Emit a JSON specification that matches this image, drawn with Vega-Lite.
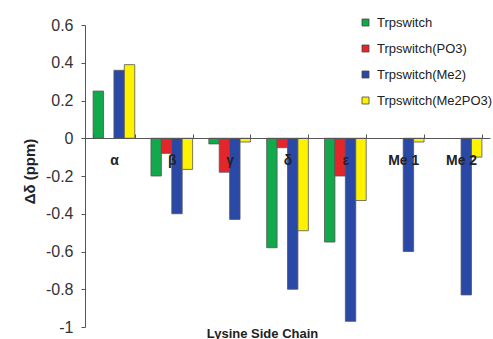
{
  "$schema": "https://vega.github.io/schema/vega-lite/v6.json",
  "width": 405,
  "height": 302,
  "autosize": {"type": "none"},
  "padding": {"left": 85, "top": 25, "right": 3, "bottom": 12},
  "background": "white",
  "config": {"view": {"stroke": null}, "font": "Liberation Sans"},
  "data": {"values": [
    {"chain": "α", "series": "Trpswitch", "value": 0.25},
    {"chain": "α", "series": "Trpswitch(Me2)", "value": 0.36},
    {"chain": "α", "series": "Trpswitch(Me2PO3)", "value": 0.39},
    {"chain": "β", "series": "Trpswitch", "value": -0.2},
    {"chain": "β", "series": "Trpswitch(PO3)", "value": -0.08},
    {"chain": "β", "series": "Trpswitch(Me2)", "value": -0.4},
    {"chain": "β", "series": "Trpswitch(Me2PO3)", "value": -0.165},
    {"chain": "γ", "series": "Trpswitch", "value": -0.03},
    {"chain": "γ", "series": "Trpswitch(PO3)", "value": -0.18},
    {"chain": "γ", "series": "Trpswitch(Me2)", "value": -0.43},
    {"chain": "γ", "series": "Trpswitch(Me2PO3)", "value": -0.02},
    {"chain": "δ", "series": "Trpswitch", "value": -0.58},
    {"chain": "δ", "series": "Trpswitch(PO3)", "value": -0.05},
    {"chain": "δ", "series": "Trpswitch(Me2)", "value": -0.8},
    {"chain": "δ", "series": "Trpswitch(Me2PO3)", "value": -0.49},
    {"chain": "ε", "series": "Trpswitch", "value": -0.55},
    {"chain": "ε", "series": "Trpswitch(PO3)", "value": -0.2},
    {"chain": "ε", "series": "Trpswitch(Me2)", "value": -0.97},
    {"chain": "ε", "series": "Trpswitch(Me2PO3)", "value": -0.33},
    {"chain": "Me 1", "series": "Trpswitch(Me2)", "value": -0.6},
    {"chain": "Me 1", "series": "Trpswitch(Me2PO3)", "value": -0.02},
    {"chain": "Me 2", "series": "Trpswitch(Me2)", "value": -0.83},
    {"chain": "Me 2", "series": "Trpswitch(Me2PO3)", "value": -0.1}
  ]},
  "mark": {"type": "bar", "stroke": "#555", "strokeWidth": 0.8},
  "encoding": {
    "x": {
      "field": "chain", "type": "nominal",
      "sort": ["α", "β", "γ", "δ", "ε", "Me 1", "Me 2"],
      "scale": {"paddingInner": 0.28, "paddingOuter": 0.14},
      "axis": {
        "orient": "bottom", "offset": -189, "labelAngle": 0, "zindex": 1,
        "tickBand": "extent", "tickSize": -4, "tickColor": "#555", "domainColor": "#555",
        "labelFont": "Liberation Sans", "labelFontWeight": "bold", "labelFontSize": 14, "labelColor": "#222",
        "labelPadding": 19,
        "title": "Lysine Side Chain", "titleFont": "Liberation Sans", "titleFontSize": 13, "titleFontWeight": "bold", "titleColor": "#222",
        "titleX": 177, "titleY": 189, "titleAnchor": "middle", "titleBaseline": "top"
      }
    },
    "xOffset": {"field": "series", "type": "nominal", "sort": ["Trpswitch", "Trpswitch(PO3)", "Trpswitch(Me2)", "Trpswitch(Me2PO3)"], "scale": {"paddingInner": 0, "paddingOuter": 0}},
    "y": {
      "field": "value", "type": "quantitative",
      "scale": {"domain": [-1, 0.6], "nice": false, "zero": false},
      "axis": {
        "values": [-1, -0.8, -0.6, -0.4, -0.2, 0, 0.2, 0.4, 0.6],
        "labelExpr": "replace(format(datum.value, '~g'), '−', '-')",
        "grid": false, "tickSize": 4, "tickColor": "#555", "domainColor": "#555",
        "labelFont": "Liberation Sans", "labelFontSize": 16, "labelColor": "#333", "labelPadding": 8,
        "title": "Δδ (ppm)", "titleFont": "Liberation Sans", "titleFontSize": 15, "titleFontWeight": "bold", "titleColor": "#222",
        "titlePadding": 8, "titleY": 146
      }
    },
    "color": {
      "field": "series", "type": "nominal",
      "sort": ["Trpswitch", "Trpswitch(PO3)", "Trpswitch(Me2)", "Trpswitch(Me2PO3)"],
      "scale": {"domain": ["Trpswitch", "Trpswitch(PO3)", "Trpswitch(Me2)", "Trpswitch(Me2PO3)"], "range": ["#12a84c", "#e3262b", "#2a49a6", "#fff200"]},
      "legend": {
        "orient": "none", "legendX": 274, "legendY": -9, "title": null,
        "symbolType": "square", "symbolSize": 49, "symbolStrokeColor": "#444", "symbolStrokeWidth": 0.8,
        "labelFont": "Liberation Sans", "labelFontSize": 13, "labelColor": "#222", "labelOffset": 5,
        "rowPadding": 12
      }
    }
  }
}
